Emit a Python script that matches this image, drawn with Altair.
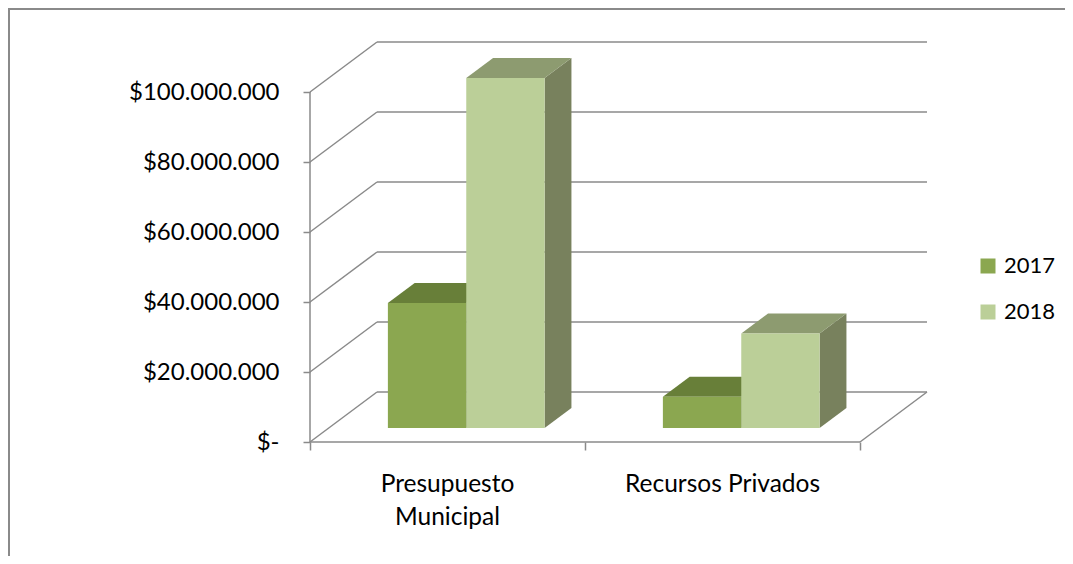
import altair as alt
import pandas as pd

# ---- data -------------------------------------------------------------
categories = ["Presupuesto Municipal", "Recursos Privados"]
category_labels = ["Presupuesto\nMunicipal", "Recursos Privados"]
years = ["2017", "2018"]
values_2017 = [35_700_000, 8_900_000]
values_2018 = [100_000_000, 27_000_000]
tick_values = [0, 20_000_000, 40_000_000, 60_000_000, 80_000_000, 100_000_000]

# ---- layout / style ---------------------------------------------------
W, H = 1057, 548
X0 = 302.0            # pixel position of front axis
CAT_W = 275.0         # pixel width of one category
Y0 = 434.0            # pixel position of zero on front plane
PX_PER_VAL = 70.0 / 20e6
DEPTH_DX, DEPTH_DY = 67.0, 50.0
BAR_D1, BAR_D2 = 0.28, 0.68
GAP, BAR_W = 0.215, 0.285
GRAY = "#8A8A8A"
FONT = "Lato"
FRONT = {"2017": "#8BA750", "2018": "#BBCF98"}
TOP = {"2017": "#687F39", "2018": "#8D9B70"}
SIDE = {"2017": "#5C7232", "2018": "#78815D"}

x_dom = [-X0 / CAT_W, (W - X0) / CAT_W]
y_dom = [-(H - Y0) / PX_PER_VAL, Y0 / PX_PER_VAL]
dxu = DEPTH_DX / CAT_W
dyu = DEPTH_DY / PX_PER_VAL
ncat = len(categories)

xs = alt.Scale(domain=x_dom, nice=False, zero=False)
ys = alt.Scale(domain=y_dom, nice=False, zero=False)

series = {"2017": values_2017, "2018": values_2018}

# ---- geometry tables --------------------------------------------------
front_rows, side_rows, top_rows = [], [], []
for ci, cat in enumerate(categories):
    for yi, yr in enumerate(years):
        v = series[yr][ci]
        xl = ci + GAP + yi * BAR_W
        xr = xl + BAR_W
        bid = f"{ci}-{yr}"
        front_rows.append(dict(year=yr, cat=cat, value=v,
                               x=xl + BAR_D1 * dxu, x2=xr + BAR_D1 * dxu,
                               y=BAR_D1 * dyu, y2=v + BAR_D1 * dyu))
        for d in (BAR_D1, BAR_D2):
            side_rows.append(dict(year=yr, bid=bid, x=xr + d * dxu,
                                  y=d * dyu, y2=v + d * dyu))
            top_rows.append(dict(year=yr, bid=bid, y=v + d * dyu,
                                 x=xl + d * dxu, x2=xr + d * dxu))
front_df = pd.DataFrame(front_rows)
side_df = pd.DataFrame(side_rows)
top_df = pd.DataFrame(top_rows)

grid_rows = []
for t in tick_values:
    grid_rows.append(dict(x=dxu, x2=ncat + dxu, y=t + dyu, y2=t + dyu))
    grid_rows.append(dict(x=0, x2=dxu, y=t, y2=t + dyu))
grid_rows.append(dict(x=0, x2=ncat, y=0, y2=0))
grid_rows.append(dict(x=ncat, x2=ncat + dxu, y=0, y2=dyu))
grid_df = pd.DataFrame(grid_rows)

label_df = pd.DataFrame(dict(x=[i + 0.5 for i in range(ncat)], y=[0] * ncat,
                             label=category_labels))
axis_df = pd.DataFrame(dict(x=[0], y=[0], y2=[max(tick_values)]))

# ---- axes (shared by every layer) ---------------------------------------
y_axis = alt.Axis(values=tick_values, orient="left", offset=-X0, domain=False,
                  grid=False, tickSize=7, tickColor=GRAY, tickWidth=1.5,
                  labelFont=FONT, labelFontSize=24, labelColor="black",
                  labelPadding=24, title=None, labelOverlap=False,
                  labelExpr="datum.value == 0 ? '$-' : '$' + replace(format(datum.value, ','), regexp(',', 'g'), '.')")
x_axis = alt.Axis(values=list(range(ncat + 1)), orient="bottom", offset=-(H - Y0),
                  domain=False, grid=False, tickSize=8, tickColor=GRAY,
                  tickWidth=1.5, labels=False, title=None)


def X(field):
    return alt.X(field, scale=xs, axis=x_axis)


def Y(field):
    return alt.Y(field, scale=ys, axis=y_axis)


axis_layer = alt.Chart(axis_df).mark_rule(color=GRAY, strokeWidth=1.5).encode(
    x=X("x:Q"), y=Y("y:Q"), y2="y2:Q",
)

grid_layer = alt.Chart(grid_df).mark_rule(color=GRAY, strokeWidth=1.5).encode(
    x=X("x:Q"), x2="x2:Q", y=Y("y:Q"), y2="y2:Q",
)

side_layers = [
    alt.Chart(side_df).transform_filter(f"datum.year == '{yr}'")
    .mark_area(orient="vertical", color=SIDE[yr], opacity=1)
    .encode(x=X("x:Q"), y=Y("y:Q"), y2="y2:Q", detail="bid:N")
    for yr in years
]
top_layers = [
    alt.Chart(top_df).transform_filter(f"datum.year == '{yr}'")
    .mark_area(orient="horizontal", color=TOP[yr], opacity=1)
    .encode(y=Y("y:Q"), x=X("x:Q"), x2="x2:Q", detail="bid:N")
    for yr in years
]

front_layer = alt.Chart(front_df).mark_rect().encode(
    x=X("x:Q"), x2="x2:Q", y=Y("y:Q"), y2="y2:Q",
    color=alt.Color("year:N",
                    scale=alt.Scale(domain=years, range=[FRONT[y] for y in years]),
                    legend=alt.Legend(title=None, orient="none", legendX=969,
                                      legendY=247, symbolType="square",
                                      symbolSize=225, symbolStrokeWidth=0,
                                      labelFont=FONT, labelFontSize=22,
                                      labelColor="black", rowPadding=24,
                                      labelOffset=5, padding=0)),
)

label_layer = alt.Chart(label_df).mark_text(
    font=FONT, fontSize=24.5, color="black", align="center",
    baseline="alphabetic", dy=50, lineBreak="\n", lineHeight=33,
).encode(
    x=X("x:Q"), y=Y("y:Q"), text="label:N",
)

border_left = alt.Chart(axis_df).mark_rule(color=GRAY, strokeWidth=2).encode(
    x=alt.value(1), y=alt.value(0), y2=alt.value(H))
border_top = alt.Chart(axis_df).mark_rule(color=GRAY, strokeWidth=2).encode(
    x=alt.value(0), x2=alt.value(W), y=alt.value(1))

chart = alt.layer(
    axis_layer, grid_layer, *side_layers, *top_layers, front_layer,
    label_layer, border_left, border_top,
).properties(
    width=W, height=H, padding=0,
    autosize=alt.AutoSizeParams(type="none"),
    background="white",
).configure_view(stroke=None)

chart.save("out.html", embed_options={"renderer": "svg", "actions": False})
